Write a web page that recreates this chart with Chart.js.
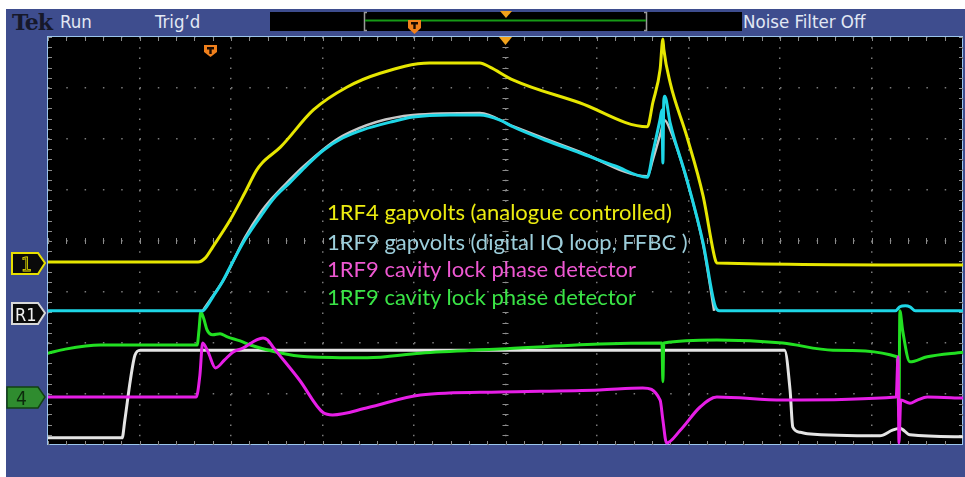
<!DOCTYPE html>
<html>
<head>
<meta charset="utf-8">
<script src="https://cdn.jsdelivr.net/npm/chart.js@4.4.1/dist/chart.umd.min.js"></script>
<style>
  html, body { margin: 0; padding: 0; background: #fff; }
  #page { position: relative; width: 965px; height: 477px; overflow: hidden; background: #fff; }
  #screen { position: absolute; left: 6px; top: 9px; width: 959px; height: 468px; background: #3e4d8e; }
  .bar { position: absolute; top: 9px; font-family: "Liberation Sans Narrow", "DejaVu Sans Condensed", "Roboto", sans-serif; font-size: 18.5px; color: #e2e8f4; line-height: 26px; }
  #tek { position: absolute; left: 12px; top: 9px; font-family: "DejaVu Serif", "Liberation Serif", serif; font-weight: bold; font-size: 22px; color: #16182a; line-height: 26px; letter-spacing: -1px; }
  #recbox { position: absolute; left: 270px; top: 12px; width: 472px; height: 19px; background: #000; }
  #frame { position: absolute; left: 47px; top: 36px; width: 914px; height: 407px; border: 1px solid #9cc6ec; background: #000; }
  #scope { position: absolute; left: 48px; top: 37px; }
  #overlay { position: absolute; left: 0; top: 0; }
  .note { position: absolute; left: 327px; font-family: "Lato", "Noto Sans", sans-serif; font-size: 22px; white-space: nowrap; line-height: 24px; }
</style>
</head>
<body>
<div id="page">
  <div id="screen"></div>
  <div id="tek">Tek</div>
  <div class="bar" style="left:60px">Run</div>
  <div class="bar" style="left:155px">Trig’d</div>
  <div id="recbox"></div>
  <div class="bar" style="left:743px">Noise Filter Off</div>
  <div id="frame"></div>
  <canvas id="scope" width="915" height="408"></canvas>
  <div class="note" style="top:200px;color:#ecec10">1RF4 gapvolts (analogue controlled)</div>
  <div class="note" style="top:230px;color:#9ccedb">1RF9 gapvolts (digital IQ loop, FFBC )</div>
  <div class="note" style="top:257px;color:#ee58d2">1RF9 cavity lock phase detector</div>
  <div class="note" style="top:285px;color:#3ae446">1RF9 cavity lock phase detector</div>
  <svg id="overlay" width="965" height="477">
    <!-- record view bracket and trigger markers -->
    <path d="M367 12.5 H364.5 V30.5 H367" fill="none" stroke="#9a9a9a" stroke-width="1.5"/>
    <path d="M644 12.5 H646.5 V30.5 H644" fill="none" stroke="#9a9a9a" stroke-width="1.5"/>
    <line x1="365" y1="20.5" x2="646" y2="20.5" stroke="#169a16" stroke-width="2"/>
    <polygon points="500,11 512,11 506,18" fill="#f2a21c"/>
    <polygon points="408,20 421,20 421,28 414.5,34 408,28" fill="#f0801c"/>
    <rect x="411" y="22" width="7" height="2.5" fill="#1a0a00"/>
    <rect x="413.3" y="24" width="2.4" height="5" fill="#1a0a00"/>
    <polygon points="499,37 512,37 505.5,45" fill="#f2a21c"/>
    <polygon points="204,45 217,45 217,52 210.5,57 204,52" fill="#f0801c"/>
    <rect x="207" y="47" width="7" height="2.5" fill="#1a0a00"/>
    <rect x="209.3" y="49" width="2.4" height="5" fill="#1a0a00"/>
    <!-- channel reference tags -->
    <polygon points="12,253 38,253 45,263 38,274 12,274" fill="#0a0a0a" stroke="#e8e000" stroke-width="2"/>
    <text x="21" y="271" font-family="Liberation Sans Narrow, DejaVu Sans Condensed, sans-serif" font-size="19" fill="#0a0a0a" stroke="#e8e000" stroke-width="0.8">1</text>
    <polygon points="12,303 38,303 45,313 38,324 12,324" fill="#0a0a0a" stroke="#d8d8d8" stroke-width="2"/>
    <text x="15" y="321" font-family="Liberation Sans Narrow, DejaVu Sans Condensed, sans-serif" font-size="18" fill="#f0f0f0">R1</text>
    <polygon points="7,387 38,387 45,397 38,408 7,408" fill="#2f8c2f" stroke="#124012" stroke-width="1.5"/>
    <text x="16" y="405" font-family="Liberation Sans Narrow, DejaVu Sans Condensed, sans-serif" font-size="19" fill="#0c2a0c">4</text>
  </svg>
</div>
<script>
// horizontal axis in divisions (0..10), vertical axis in divisions (-4..4)
const ch1Time = [0, 1.64, 1.72, 1.80, 1.99, 2.15, 2.28, 2.34, 2.54, 2.90, 3.27, 3.63, 4.17, 4.72, 4.83, 5.08, 5.81, 6.55, 6.61, 6.69, 6.72, 6.73, 6.80, 6.98, 7.16, 7.29, 7.31, 10];
const ch1Level = [-0.41, -0.41, -0.33, -0.12, 0.41, 0.94, 1.39, 1.53, 1.84, 2.57, 3.02, 3.29, 3.49, 3.49, 3.41, 3.16, 2.71, 2.24, 2.71, 3.37, 3.96, 3.76, 3.10, 2.06, 0.88, -0.35, -0.43, -0.47];

const r1Time = [0, 1.69, 1.74, 1.80, 1.90, 1.99, 2.15, 2.35, 2.48, 2.64, 2.81, 3.01, 3.22, 3.44, 3.74, 3.99, 4.39, 4.72, 4.94, 5.08, 5.43, 5.81, 6.20, 6.55, 6.61, 6.69, 6.71, 6.72, 6.73, 6.74, 6.80, 6.98, 7.16, 7.29, 7.34, 9.26, 9.31, 9.37, 9.42, 9.48, 10];
const r1Level = [-1.37, -1.37, -1.27, -1.10, -0.82, -0.51, 0.02, 0.55, 0.86, 1.14, 1.45, 1.78, 2.02, 2.18, 2.33, 2.43, 2.47, 2.47, 2.37, 2.24, 1.98, 1.73, 1.47, 1.25, 1.73, 2.39, 2.57, 1.53, 2.76, 2.84, 2.31, 1.22, -0.04, -1.27, -1.37, -1.37, -1.29, -1.27, -1.29, -1.37, -1.37];

const liveTime = [1.69, 1.77, 1.93, 2.15, 2.32, 2.45, 2.62, 2.81, 3.22, 3.99, 4.72, 5.08, 5.81, 6.55, 6.61, 6.69, 6.74, 6.80, 6.98, 7.16, 7.28];
const liveLevel = [-1.37, -1.16, -0.73, 0.06, 0.55, 0.84, 1.16, 1.49, 2.06, 2.47, 2.51, 2.25, 1.75, 1.27, 1.59, 2.08, 2.37, 2.18, 1.20, -0.08, -1.37];

const gateTime = [0, 0.81, 0.84, 0.90, 0.95, 1.01, 8.05, 8.11, 8.14, 8.22, 8.30, 9.09, 9.23, 9.31, 9.42, 10];
const gateLevel = [-3.86, -3.86, -3.51, -2.73, -2.24, -2.14, -2.14, -2.92, -3.65, -3.75, -3.78, -3.82, -3.71, -3.67, -3.80, -3.84];

const phaseGreenTime = [0, 0.19, 0.57, 1.63, 1.65, 1.67, 1.70, 1.74, 1.80, 1.88, 1.96, 2.10, 2.21, 2.50, 2.83, 3.49, 4.07, 4.94, 6.03, 6.71, 6.72, 6.73, 7.31, 8.03, 8.58, 9.28, 9.30, 9.31, 9.34, 9.42, 9.61, 10];
const phaseGreenLevel = [-2.20, -2.12, -2.04, -2.04, -1.75, -1.39, -1.51, -1.75, -1.84, -1.82, -1.88, -1.96, -2.04, -2.18, -2.27, -2.29, -2.20, -2.12, -2.02, -2.00, -2.76, -2.00, -1.94, -2.00, -2.14, -2.27, -3.45, -1.37, -1.75, -2.37, -2.27, -2.18];

const phasePinkTime = [0, 1.62, 1.66, 1.69, 1.75, 1.83, 1.93, 2.02, 2.13, 2.28, 2.35, 2.40, 2.46, 2.75, 3.01, 3.11, 3.49, 4.07, 4.94, 6.03, 6.50, 6.69, 6.72, 6.76, 6.91, 7.13, 7.31, 8.03, 9.27, 9.29, 9.30, 9.32, 9.42, 9.50, 9.61, 10];
const phasePinkLevel = [-3.06, -3.06, -2.63, -2.00, -2.18, -2.49, -2.33, -2.18, -2.10, -1.94, -1.90, -1.94, -2.08, -2.73, -3.37, -3.41, -3.27, -3.02, -2.96, -2.92, -2.88, -3.12, -3.51, -3.96, -3.71, -3.25, -3.06, -3.12, -3.06, -2.27, -3.96, -3.12, -3.18, -3.12, -3.06, -3.08];

const pairs = (xs, ys) => xs.map((x, i) => ({ x, y: ys[i] }));

// graticule tick marks on the frame edges and the centre cross
const graticule = {
  id: 'graticule',
  beforeDatasetsDraw(chart) {
    const { ctx, chartArea: a, scales: { x, y } } = chart;
    const cx = x.getPixelForValue(5), cy = y.getPixelForValue(0);
    ctx.save();
    ctx.strokeStyle = '#8c8c8c';
    ctx.lineWidth = 1;
    ctx.beginPath();
    for (let i = 0; i <= 50; i++) {
      const px = Math.round(x.getPixelForValue(i / 5)) + 0.5;
      ctx.moveTo(px, a.top); ctx.lineTo(px, a.top + 4);
      ctx.moveTo(px, a.bottom); ctx.lineTo(px, a.bottom - 4);
      ctx.moveTo(px, cy - 3); ctx.lineTo(px, cy + 3);
    }
    for (let i = -20; i <= 20; i++) {
      const py = Math.round(y.getPixelForValue(i / 5)) + 0.5;
      ctx.moveTo(a.left, py); ctx.lineTo(a.left + 4, py);
      ctx.moveTo(a.right, py); ctx.lineTo(a.right - 4, py);
      ctx.moveTo(cx - 3, py); ctx.lineTo(cx + 3, py);
    }
    ctx.stroke();
    ctx.restore();
  }
};

const trace = (label, xs, ys, color, order, width) => ({
  label, data: pairs(xs, ys), borderColor: color, order,
  borderWidth: width || 3, pointRadius: 0, fill: false,
  cubicInterpolationMode: 'monotone'
});

new Chart(document.getElementById('scope'), {
  type: 'line',
  data: {
    datasets: [
      trace('1RF4 gapvolts', ch1Time, ch1Level, '#e6e600', 0),
      trace('1RF9 gapvolts', r1Time, r1Level, '#1ed6e6', 1),
      trace('1RF9 gapvolts live', liveTime, liveLevel, '#c8c8c8', 2, 2.5),
      trace('phase detector (pink)', phasePinkTime, phasePinkLevel, '#e61ee6', 3),
      trace('phase detector (green)', phaseGreenTime, phaseGreenLevel, '#22e022', 4),
      trace('gate', gateTime, gateLevel, '#e4e4e4', 5)
    ]
  },
  options: {
    responsive: false,
    animation: false,
    layout: { padding: 0 },
    plugins: { legend: { display: false }, tooltip: { enabled: false } },
    scales: {
      x: {
        type: 'linear', min: 0, max: 10,
        ticks: { display: false, stepSize: 1 },
        grid: { color: '#7a7a7a', lineWidth: 1.5, drawTicks: false },
        border: { display: false, dash: [1.5, 8.7] }
      },
      y: {
        type: 'linear', min: -4, max: 4,
        ticks: { display: false, stepSize: 1 },
        grid: { color: '#7a7a7a', lineWidth: 1.5, drawTicks: false },
        border: { display: false, dash: [1.5, 16.8] }
      }
    }
  },
  plugins: [graticule]
});
</script>
</body>
</html>
